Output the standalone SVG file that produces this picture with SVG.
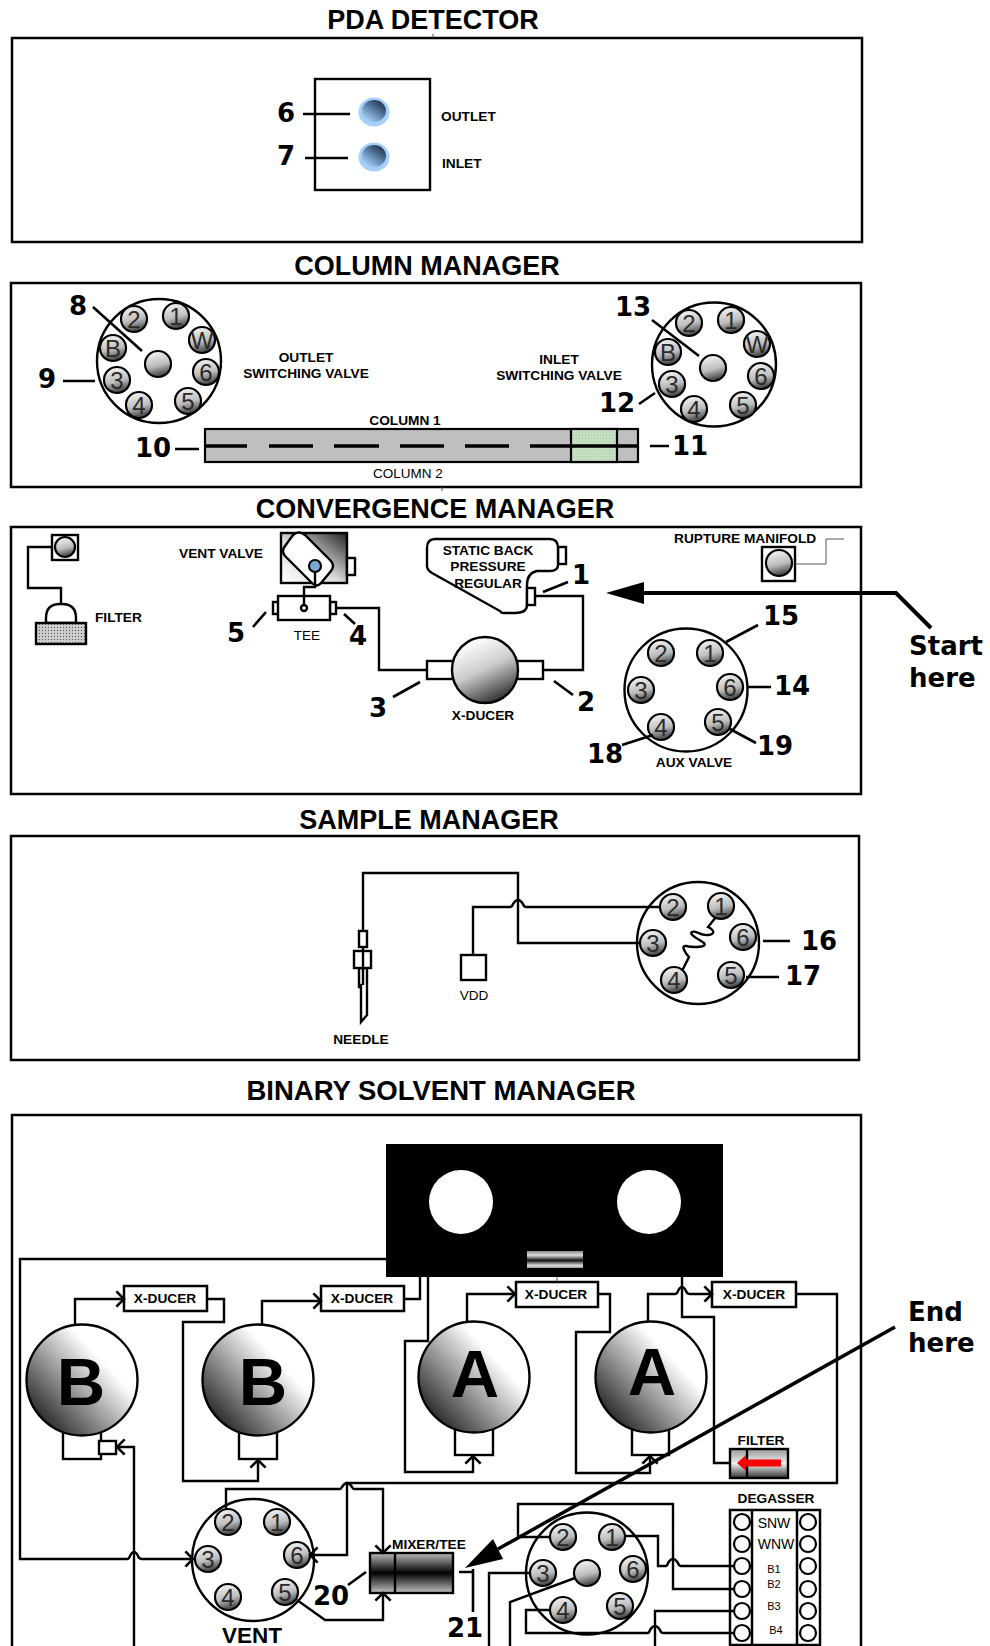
<svg xmlns="http://www.w3.org/2000/svg" width="990" height="1646" viewBox="0 0 990 1646">
<style>
text{font-family:"Liberation Sans",Arial,sans-serif;fill:#000}
.ti{font-size:27px;font-weight:700;text-anchor:middle}
.s{font-size:13.7px;font-weight:700}
.c{text-anchor:middle}
.r{font-size:13.5px;font-weight:400}
.n{font-family:"DejaVu Sans",Verdana,sans-serif;font-size:26px;font-weight:700;text-anchor:middle}
.pt{font-size:24px;text-anchor:middle;fill:#2a2a2a}
.big{font-size:67px;font-weight:700;text-anchor:middle}
.panel{fill:#fff;stroke:#000;stroke-width:2.5}
.bx{fill:#fff;stroke:#000;stroke-width:2.4}
.bt{fill:#fff;stroke:#000;stroke-width:2.5}
.w{fill:none;stroke:#000;stroke-width:2.4}
.a{fill:none;stroke:#000;stroke-width:2.4;marker-end:url(#oa)}
.l{fill:none;stroke:#000;stroke-width:2.6}
.p{fill:url(#pg);stroke:#000;stroke-width:2.2}
.v{fill:#fff;stroke:#000;stroke-width:2.4}
.t{fill:none;stroke:#555;stroke-width:1}
.dg{fill:#fff;stroke:#000;stroke-width:2.2}
</style>
<defs>
<marker id="oa" markerUnits="userSpaceOnUse" markerWidth="12" markerHeight="20" viewBox="-9 -9 11 18" refX="0" refY="0" orient="auto"><path d="M-7,-7 L0,0 L-7,7" fill="none" stroke="#000" stroke-width="2.4"/></marker>
<linearGradient id="pg" x1=".35" y1="0" x2=".6" y2="1"><stop offset="0" stop-color="#f4f4f4"/><stop offset=".55" stop-color="#bdbdbd"/><stop offset="1" stop-color="#333"/></linearGradient>
<linearGradient id="sg" x1=".1" y1=".9" x2=".85" y2=".2"><stop offset="0" stop-color="#1c1c1c"/><stop offset=".8" stop-color="#fff"/><stop offset="1" stop-color="#fff"/></linearGradient>
<linearGradient id="xg" x1=".3" y1=".05" x2=".75" y2="1"><stop offset="0" stop-color="#fff"/><stop offset=".45" stop-color="#ccc"/><stop offset="1" stop-color="#222"/></linearGradient>
<linearGradient id="bg" x1=".85" y1=".1" x2=".2" y2=".95"><stop offset="0" stop-color="#22344c"/><stop offset=".5" stop-color="#5f83aa"/><stop offset="1" stop-color="#a6d2fc"/></linearGradient>
<linearGradient id="vg" x1="0" y1="1" x2="1" y2="0"><stop offset="0" stop-color="#fff"/><stop offset=".45" stop-color="#ddd"/><stop offset="1" stop-color="#222"/></linearGradient>
<linearGradient id="mg" x1="0" y1="0" x2="0" y2="1"><stop offset="0" stop-color="#bbb"/><stop offset=".5" stop-color="#000"/><stop offset="1" stop-color="#c4c4c4"/></linearGradient>
<linearGradient id="fg" x1="0" y1="0" x2="0" y2="1"><stop offset="0" stop-color="#999"/><stop offset=".5" stop-color="#f0f0f0"/><stop offset="1" stop-color="#333"/></linearGradient>
<linearGradient id="rg" x1="0" y1="0" x2="0" y2="1"><stop offset="0" stop-color="#888"/><stop offset=".25" stop-color="#ddd"/><stop offset=".55" stop-color="#111"/><stop offset=".85" stop-color="#ddd"/><stop offset="1" stop-color="#999"/></linearGradient>
<pattern id="dots" width="3" height="3" patternUnits="userSpaceOnUse"><rect width="3" height="3" fill="#ccc"/><rect width="1" height="1" fill="#555"/></pattern>
<pattern id="green" width="3" height="3" patternUnits="userSpaceOnUse"><rect width="3" height="3" fill="#c4dfc2"/><rect width="1" height="1" fill="#a9c9a6"/></pattern>
</defs>

<g id="titles">
<text class="ti" x="433" y="29">PDA DETECTOR</text>
<text class="ti" x="427" y="275">COLUMN MANAGER</text>
<text class="ti" x="435" y="518">CONVERGENCE MANAGER</text>
<text class="ti" x="429" y="829">SAMPLE MANAGER</text>
<text class="ti" x="441" y="1100" style="font-size:27.5px">BINARY SOLVENT MANAGER</text>
</g>

<g id="panels">
<rect class="panel" x="12" y="38" width="850" height="204"/>
<rect class="panel" x="11" y="283" width="850" height="204"/>
<rect class="panel" x="11" y="527" width="850" height="267"/>
<rect class="panel" x="11" y="836" width="848" height="224"/>
<path class="panel" d="M12 1648V1115H861V1648"/>
<path class="t" d="M433 34V38M442 487V491"/>
</g>

<g id="pda-detector">
<rect class="bx" x="315" y="79" width="115" height="111"/>
<ellipse cx="374" cy="112" rx="15.500" ry="14.500" fill="#a4d0fb"/>
<ellipse cx="374" cy="111" rx="12" ry="11" fill="url(#bg)"/>
<ellipse cx="374" cy="157" rx="15.500" ry="14.500" fill="#a4d0fb"/>
<ellipse cx="374" cy="156" rx="12" ry="11" fill="url(#bg)"/>
<text class="s" x="441" y="121">OUTLET</text>
<text class="s" x="442" y="168">INLET</text>
</g>

<g id="outlet-switching-valve">
<circle class="v" cx="159" cy="361" r="62"/>
<circle class="p" cx="134" cy="319" r="13"/><text class="pt" x="134" y="327.500">2</text>
<circle class="p" cx="176" cy="316" r="13"/><text class="pt" x="176" y="324.500">1</text>
<circle class="p" cx="202" cy="340" r="13"/><text class="pt" x="202" y="348.500">W</text>
<circle class="p" cx="206" cy="372" r="13"/><text class="pt" x="206" y="380.500">6</text>
<circle class="p" cx="188" cy="401" r="13"/><text class="pt" x="188" y="409.500">5</text>
<circle class="p" cx="139" cy="405" r="13"/><text class="pt" x="139" y="413.500">4</text>
<circle class="p" cx="117" cy="380" r="13"/><text class="pt" x="117" y="388.500">3</text>
<circle class="p" cx="113" cy="348" r="13"/><text class="pt" x="113" y="356.500">B</text>
<circle class="p" cx="158" cy="364" r="13"/>
<text class="s c" x="306" y="362">OUTLET</text>
<text class="s c" x="306" y="378">SWITCHING VALVE</text>
</g>

<g id="inlet-switching-valve">
<circle class="v" cx="714" cy="364.500" r="62"/>
<circle class="p" cx="689" cy="323" r="13"/><text class="pt" x="689" y="331.500">2</text>
<circle class="p" cx="731" cy="320" r="13"/><text class="pt" x="731" y="328.500">1</text>
<circle class="p" cx="757" cy="344" r="13"/><text class="pt" x="757" y="352.500">W</text>
<circle class="p" cx="761" cy="376" r="13"/><text class="pt" x="761" y="384.500">6</text>
<circle class="p" cx="743" cy="405" r="13"/><text class="pt" x="743" y="413.500">5</text>
<circle class="p" cx="694" cy="409" r="13"/><text class="pt" x="694" y="417.500">4</text>
<circle class="p" cx="672" cy="384" r="13"/><text class="pt" x="672" y="392.500">3</text>
<circle class="p" cx="668" cy="352" r="13"/><text class="pt" x="668" y="360.500">B</text>
<circle class="p" cx="713" cy="368" r="13"/>
<text class="s c" x="559" y="364">INLET</text>
<text class="s c" x="559" y="380">SWITCHING VALVE</text>
</g>

<g id="columns">
<rect x="205" y="429" width="433" height="33" fill="#bfbfbf" stroke="#000" stroke-width="2.2"/>
<rect x="571" y="429" width="46" height="33" fill="url(#green)" stroke="#000" stroke-width="2.2"/>
<text class="s c" x="405" y="425">COLUMN 1</text>
<text class="r c" x="408" y="478">COLUMN 2</text>
</g>

<g id="filter-top">
<rect class="bx" x="52" y="535" width="26" height="25"/>
<circle class="p" cx="65" cy="547" r="10"/>
<path class="bx" d="M46 623V618Q46 604 60 604H62Q76 604 76 618V623Z"/>
<rect x="36" y="623" width="50" height="21" fill="url(#dots)" stroke="#000" stroke-width="2.4"/>
<text class="s" x="95" y="622">FILTER</text>
</g>

<g id="vent-valve">
<rect x="281" y="533" width="66" height="50" fill="url(#vg)" stroke="#000" stroke-width="2.4"/>
<rect class="bx" x="347" y="558" width="8" height="17"/>
<path class="bx" d="M293 535Q299 530 305 535L331 561Q335 566 331 571L321 583Q317 588 312 583L285 556Q281 551 285 546Z"/>
<circle cx="315" cy="566" r="6" fill="#7ba7d3" stroke="#000" stroke-width="2.2"/>
<text class="s" x="179" y="558">VENT VALVE</text>
</g>

<g id="tee">
<rect class="bx" x="273" y="602" width="6" height="12"/>
<rect class="bx" x="330" y="602" width="6" height="12"/>
<rect class="bx" x="278" y="596" width="52" height="24"/>
<circle class="bx" cx="304" cy="608" r="3"/>
<text class="r c" x="307" y="640">TEE</text>
</g>

<g id="static-back-pressure">
<rect class="bx" x="558" y="547" width="8" height="17"/>
<path class="bx" d="M435 539H550Q558 539 558 548V565Q558 571 550 571H537Q527 573 527 585V605Q527 613 515 613H503Q501 613 500 611L432 573Q427 570 427 566V548Q427 539 435 539Z"/>
<rect class="bx" x="527" y="588" width="8" height="17"/>
<text class="s c" x="488" y="555">STATIC BACK</text>
<text class="s c" x="488" y="571">PRESSURE</text>
<text class="s c" x="488" y="588">REGULAR</text>
</g>

<g id="x-ducer-convergence">
<rect class="bx" x="427" y="661" width="27" height="18"/>
<rect class="bx" x="517" y="661" width="26" height="18"/>
<circle cx="485" cy="670" r="33" fill="url(#xg)" stroke="#000" stroke-width="2.4"/>
<text class="s c" x="483" y="720">X-DUCER</text>
</g>

<g id="rupture-manifold">
<rect class="bx" x="762" y="547" width="33" height="34"/>
<circle class="p" cx="779" cy="563" r="13"/>
<text class="s" x="674" y="543">RUPTURE MANIFOLD</text>
</g>

<g id="aux-valve">
<circle class="v" cx="686" cy="690" r="61.500"/>
<circle class="p" cx="661" cy="653" r="13"/><text class="pt" x="661" y="661.500">2</text>
<circle class="p" cx="710" cy="653" r="13"/><text class="pt" x="710" y="661.500">1</text>
<circle class="p" cx="730" cy="687" r="13"/><text class="pt" x="730" y="695.500">6</text>
<circle class="p" cx="718" cy="722" r="13"/><text class="pt" x="718" y="730.500">5</text>
<circle class="p" cx="661" cy="727" r="13"/><text class="pt" x="661" y="735.500">4</text>
<circle class="p" cx="641" cy="690" r="13"/><text class="pt" x="641" y="698.500">3</text>
<text class="s c" x="694" y="767">AUX VALVE</text>
</g>

<g id="needle">
<path class="bx" d="M359 968V988L361 984V1022L367 1015V968Z"/>
<rect class="bx" x="359" y="931" width="8" height="16"/>
<rect class="bx" x="354" y="951" width="17" height="17"/>
<path class="w" d="M363 947V985"/>
<text class="s c" x="361" y="1044">NEEDLE</text>
</g>

<g id="vdd">
<rect class="bx" x="461" y="955" width="25" height="25"/>
<text class="r c" x="474" y="1000">VDD</text>
</g>

<g id="sample-valve">
<circle class="v" cx="698" cy="943" r="61"/>
<path class="w" d="M716 917L708 927C714 930 716 934 708 935C700 936 696 930 692 932C688 934 700 940 704 943C708 947 694 948 686 946C680 945 686 954 689 957L679 977"/>
<circle class="p" cx="673" cy="907" r="13"/><text class="pt" x="673" y="915.500">2</text>
<circle class="p" cx="721" cy="906" r="13"/><text class="pt" x="721" y="914.500">1</text>
<circle class="p" cx="743" cy="937" r="13"/><text class="pt" x="743" y="945.500">6</text>
<circle class="p" cx="731" cy="975" r="13"/><text class="pt" x="731" y="983.500">5</text>
<circle class="p" cx="674" cy="980" r="13"/><text class="pt" x="674" y="988.500">4</text>
<circle class="p" cx="653" cy="943" r="13"/><text class="pt" x="653" y="951.500">3</text>
</g>

<g id="plate">
<rect x="386" y="1144" width="337" height="133" fill="#000"/>
<circle cx="461" cy="1202" r="32" fill="#fff"/>
<circle cx="649" cy="1202" r="32" fill="#fff"/>
<rect x="527" y="1251" width="56" height="17" fill="url(#rg)"/>
</g>

<g id="pump-b1">
<rect class="bx" x="63" y="1425" width="38" height="34"/>
<rect class="bx" x="99" y="1441" width="17" height="13"/>
<circle cx="82" cy="1380" r="55.500" fill="url(#sg)" stroke="#000" stroke-width="2.4"/>
<text class="big" x="81" y="1405">B</text>
</g>
<g id="pump-b2">
<rect class="bx" x="239" y="1425" width="38" height="34"/>
<circle cx="258" cy="1380" r="55.500" fill="url(#sg)" stroke="#000" stroke-width="2.4"/>
<text class="big" x="263" y="1405">B</text>
</g>
<g id="pump-a1">
<rect class="bx" x="455" y="1421" width="38" height="34"/>
<circle cx="474" cy="1377" r="55.500" fill="url(#sg)" stroke="#000" stroke-width="2.4"/>
<text class="big" x="475" y="1397">A</text>
</g>
<g id="pump-a2">
<rect class="bx" x="632" y="1421" width="37" height="34"/>
<circle cx="651" cy="1377" r="55.500" fill="url(#sg)" stroke="#000" stroke-width="2.4"/>
<text class="big" x="652" y="1395">A</text>
</g>

<g id="x-ducer-1"><rect class="bt" x="124" y="1286" width="83" height="25"/><text class="s c" x="165" y="1303">X-DUCER</text></g>
<g id="x-ducer-2"><rect class="bt" x="321" y="1286" width="83" height="25"/><text class="s c" x="362" y="1303">X-DUCER</text></g>
<g id="x-ducer-3"><rect class="bt" x="516" y="1282" width="82" height="25"/><text class="s c" x="556" y="1299">X-DUCER</text></g>
<g id="x-ducer-4"><rect class="bt" x="712" y="1282" width="84" height="25"/><text class="s c" x="754" y="1299">X-DUCER</text></g>

<g id="filter-bsm">
<rect x="730" y="1449" width="58" height="29" fill="url(#fg)" stroke="#000" stroke-width="2.4"/>
<path class="w" d="M747 1449V1478"/>
<path d="M781 1459.500H746V1455L737 1463L746 1471V1466.500H781Z" fill="#f00"/>
<text class="s c" x="761" y="1445">FILTER</text>
</g>

<g id="vent-valve-bsm">
<circle class="v" cx="253" cy="1560" r="61"/>
<circle class="p" cx="228" cy="1522" r="13"/><text class="pt" x="228" y="1530.500">2</text>
<circle class="p" cx="277" cy="1522" r="13"/><text class="pt" x="277" y="1530.500">1</text>
<circle class="p" cx="297" cy="1555" r="13"/><text class="pt" x="297" y="1563.500">6</text>
<circle class="p" cx="285" cy="1592" r="13"/><text class="pt" x="285" y="1600.500">5</text>
<circle class="p" cx="228" cy="1597" r="13"/><text class="pt" x="228" y="1605.500">4</text>
<circle class="p" cx="208" cy="1559" r="13"/><text class="pt" x="208" y="1567.500">3</text>
<text x="252" y="1643" font-size="22.500" font-weight="700" text-anchor="middle">VENT</text>
</g>

<g id="mixer-tee">
<rect x="370" y="1553" width="83" height="40" fill="url(#mg)" stroke="#000" stroke-width="2.4"/>
<path class="w" d="M395 1553V1593"/>
<text class="s" x="392" y="1549">MIXER/TEE</text>
</g>

<g id="selector-valve">
<circle class="v" cx="587" cy="1573.500" r="61"/>
<circle class="p" cx="563" cy="1537" r="13"/><text class="pt" x="563" y="1545.500">2</text>
<circle class="p" cx="612" cy="1537" r="13"/><text class="pt" x="612" y="1545.500">1</text>
<circle class="p" cx="633" cy="1569" r="13"/><text class="pt" x="633" y="1577.500">6</text>
<circle class="p" cx="620" cy="1606" r="13"/><text class="pt" x="620" y="1614.500">5</text>
<circle class="p" cx="563" cy="1610" r="13"/><text class="pt" x="563" y="1618.500">4</text>
<circle class="p" cx="543" cy="1573" r="13"/><text class="pt" x="543" y="1581.500">3</text>
<circle class="p" cx="587" cy="1573" r="13"/>
</g>

<g id="degasser">
<rect class="bt" x="730" y="1510" width="90" height="135"/>
<path class="bt" d="M752 1510V1645M797 1510V1645"/>
<circle class="dg" cx="742" cy="1522" r="8"/><circle class="dg" cx="742" cy="1544" r="8"/><circle class="dg" cx="742" cy="1566" r="8"/><circle class="dg" cx="742" cy="1589" r="8"/><circle class="dg" cx="742" cy="1611" r="8"/><circle class="dg" cx="742" cy="1633" r="8"/>
<circle class="dg" cx="808" cy="1522" r="8"/><circle class="dg" cx="808" cy="1544" r="8"/><circle class="dg" cx="808" cy="1566" r="8"/><circle class="dg" cx="808" cy="1589" r="8"/><circle class="dg" cx="808" cy="1611" r="8"/><circle class="dg" cx="808" cy="1633" r="8"/>
<text class="s c" x="776" y="1503">DEGASSER</text>
<text class="c" x="774" y="1528" font-size="14">SNW</text>
<text class="c" x="776" y="1549" font-size="14">WNW</text>
<text class="c" x="774" y="1573" font-size="11">B1</text>
<text class="c" x="774" y="1588" font-size="11">B2</text>
<text class="c" x="774" y="1610" font-size="11">B3</text>
<text class="c" x="776" y="1634" font-size="11">B4</text>
</g>

<g id="connectors">
<path d="M205 446H247M269 446H313M334 446H379M400 446H444M465 446H509M530 446H638" fill="none" stroke="#000" stroke-width="3.500"/>
<path class="w" d="M52 547H28V588H61V604"/>
<path class="w" d="M315 572V587H304V605"/>
<path class="w" d="M336 608H379V670H427"/>
<path class="w" d="M543 670H583V596H535"/>
<path class="t" d="M795 564H826V539H844"/>
<path class="w" d="M363 931V873H518V943H639"/>
<path class="w" d="M473 955V907H510Q512 907 513 904Q518 896 523 904Q524 907 526 907H661"/>
<path class="a" d="M386 1259H20V1559H127Q129 1559 130 1556Q134 1548 138 1556Q139 1559 142 1559H193"/>
<path class="a" d="M134 1646V1447H117"/>
<path class="a" d="M75 1324V1299H124"/>
<path class="a" d="M207 1299H224V1322H183V1481H258V1460"/>
<path class="a" d="M262 1324V1301H321"/>
<path class="w" d="M404 1299H420V1277"/>
<path class="a" d="M428 1277V1341H405V1472H473V1456"/>
<path class="a" d="M467 1321V1294H515"/>
<path class="t" d="M557 1277V1282"/>
<path class="a" d="M598 1294H610V1332H576V1473H650V1456"/>
<path class="a" d="M648 1321V1294H675Q677 1294 678 1291Q682 1283 686 1291Q687 1294 690 1294H712"/>
<path class="w" d="M682 1277V1317H714V1463H730"/>
<path class="a" d="M796 1294H837V1483H347V1555H310"/>
<path class="a" d="M226 1510V1489H340Q341 1489 342 1487Q347 1479 352 1487Q353 1489 354 1489H383V1553"/>
<path class="a" d="M297 1600L325 1620H383V1593"/>
<path class="w" d="M550 1537H518V1504H673V1589H733"/>
<path class="w" d="M625 1536H658V1566H666Q667 1566 668 1563Q673 1555 678 1563Q679 1566 681 1566H733"/>
<path class="w" d="M530 1573H489V1646"/>
<path class="w" d="M575 1578L510 1602V1646"/>
<path class="w" d="M550 1610H526V1633H648Q649 1633 650 1630Q655 1622 660 1630Q661 1633 663 1633H733"/>
<path class="w" d="M733 1611H655V1646"/>
<path class="l" d="M303 114H350M305 158H348"/>
<path class="l" d="M93 307L142 351M63 381H95"/>
<path class="l" d="M652 320L699 356M639 404L655 393"/>
<path class="l" d="M175 449H199M650 446H669"/>
<path class="l" d="M543 592L568 582M253 627L266 612M344 614L355 624M393 697L420 682M554 681L573 695M726 642L758 625M748 687H771M730 729L756 743M622 745L653 735"/>
<path class="l" d="M763 941H790M746 977H779"/>
<path class="l" d="M348 1585L366 1572M459 1572H474M473 1569V1612"/>
<path d="M931 628L896 593H640" fill="none" stroke="#000" stroke-width="4"/>
<polygon points="606,593 644,582 644,604" fill="#000"/>
<path d="M895 1327L498 1549" fill="none" stroke="#000" stroke-width="3.500"/>
<polygon points="465,1568 493,1539 503,1559" fill="#000"/>
</g>

<g id="labels">
<text class="n" x="286" y="122">6</text>
<text class="n" x="286" y="165">7</text>
<text class="n" x="78" y="315">8</text>
<text class="n" x="47" y="388">9</text>
<text class="n" x="633" y="316">13</text>
<text class="n" x="617" y="412">12</text>
<text class="n" x="153" y="457">10</text>
<text class="n" x="690" y="455">11</text>
<text class="n" x="581" y="584">1</text>
<text class="n" x="236" y="642">5</text>
<text class="n" x="358" y="645">4</text>
<text class="n" x="378" y="717">3</text>
<text class="n" x="586" y="711">2</text>
<text class="n" x="781" y="625">15</text>
<text class="n" x="792" y="695">14</text>
<text class="n" x="775" y="755">19</text>
<text class="n" x="605" y="763">18</text>
<text class="n" x="819" y="950">16</text>
<text class="n" x="803" y="985">17</text>
<text class="n" x="331" y="1605">20</text>
<text class="n" x="465" y="1637">21</text>
<text class="n" x="909" y="655" style="text-anchor:start">Start</text>
<text class="n" x="909" y="687" style="text-anchor:start">here</text>
<text class="n" x="908" y="1321" style="text-anchor:start">End</text>
<text class="n" x="908" y="1352" style="text-anchor:start">here</text>
</g>
</svg>
